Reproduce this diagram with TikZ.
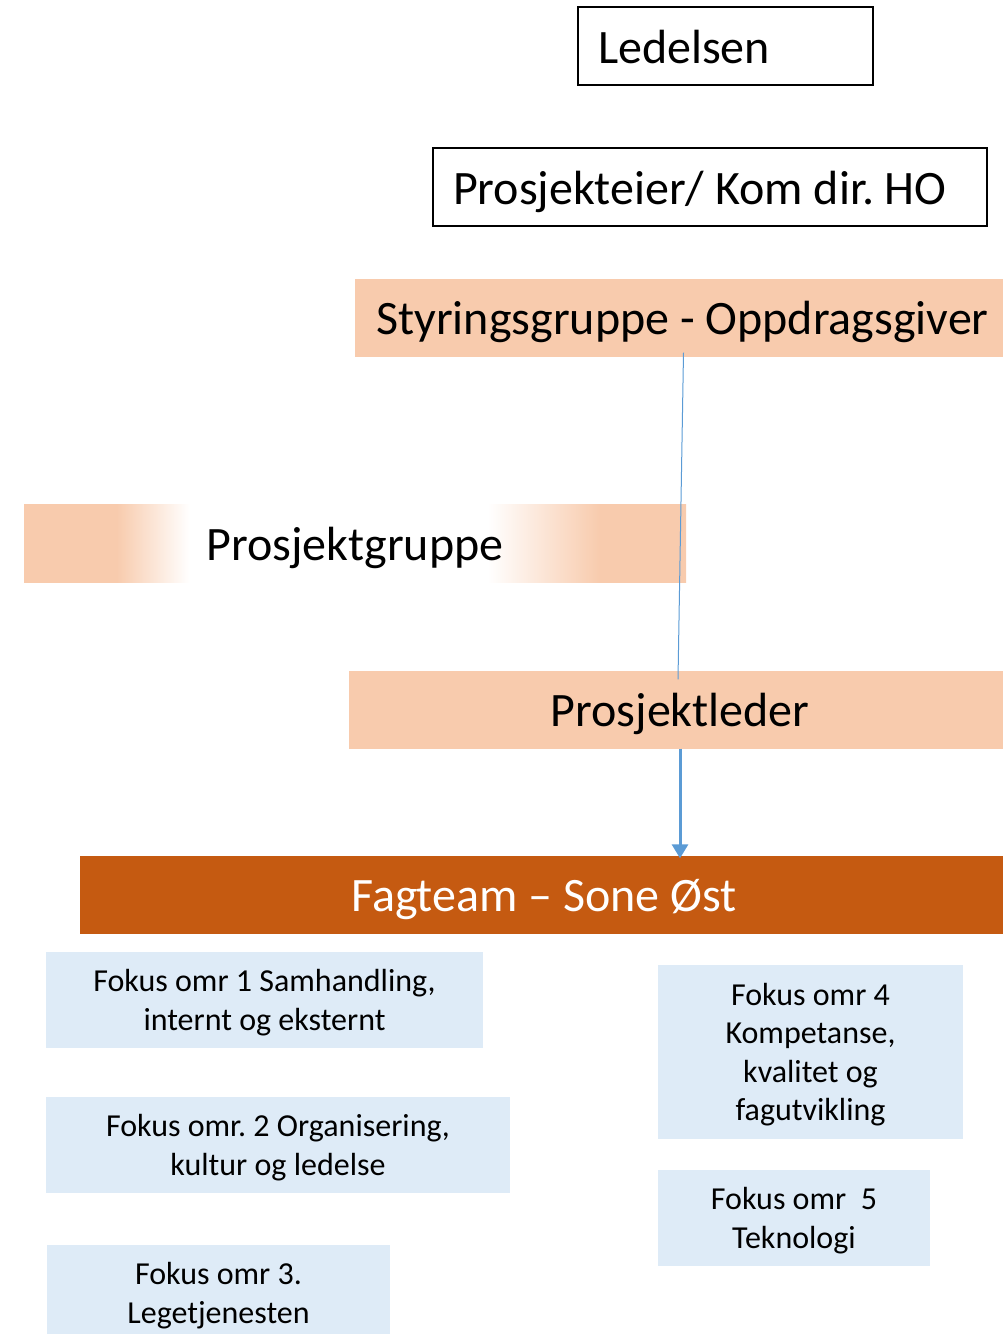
\documentclass[tikz,border=0pt]{standalone}
\usepackage{fontspec}
\setmainfont{Carlito}
\usepackage{xcolor}
\usepackage{tikz}
\usetikzlibrary{arrows.meta,positioning}
\definecolor{orgpeach}{HTML}{F8CBAD}
\definecolor{orgorange}{HTML}{C55A11}
\definecolor{orgblue}{HTML}{DEEBF7}
\definecolor{orgline}{HTML}{5B9BD5}
\pgfdeclarehorizontalshading{gruppeglow}{100bp}{color(0bp)=(orgpeach); color(32bp)=(orgpeach); color(37.5bp)=(white); color(60bp)=(white); color(68.5bp)=(orgpeach); color(100bp)=(orgpeach)}
\frenchspacing

\begin{document}
\begin{tikzpicture}[
  x=1pt, y=-1pt,
  level/.style={rectangle, inner sep=0pt, minimum height=78pt, text height=40pt, text depth=6pt, align=center, font=\fontsize{48}{57}\selectfont},
  frame/.style={level, draw=black, line width=1.3pt, fill=white},
  band/.style={level, fill=orgpeach},
  focus/.style={rectangle, inner sep=0pt, fill=orgblue, minimum height=96pt, text depth=-1.5pt, align=center, font=\fontsize{32}{38.5}\selectfont},
  thinline/.style={draw=orgline, line width=1pt},
  flowarrow/.style={draw=orgline, line width=3pt, -{Triangle[width=16pt,length=14pt]}}
]
  \clip (0,0) rectangle (1003,1334);

  \node[frame, minimum width=295pt, text width=255pt, align=flush left] (ledelsen) at (725.5,46) {Ledelsen};
  \node[frame, minimum width=554pt, text width=514pt, align=flush left] (eier) at (710,187) {Prosjekteier/ Kom dir. HO};
  \node[band, minimum width=655pt] (styring) at (682.5,317.5) {Styringsgruppe - Oppdragsgiver};
  \node[level, shading=gruppeglow, minimum width=662pt] (gruppe) at (355,543.5) {Prosjektgruppe};
  \node[band, minimum width=662pt] (leder) at (680,709.5) {Prosjektleder};
  \node[level, fill=orgorange, text=white, minimum width=928pt] (fagteam) at (544,894.5) {Fagteam – Sone Øst};

  % fokusomraader
  \node[focus, minimum width=437pt] (fokus1) at (264.5,1000) {Fokus omr 1 Samhandling,\\internt og eksternt};
  \node[focus, minimum width=464pt] (fokus2) at (278,1145) {Fokus omr. 2 Organisering,\\kultur og ledelse};
  \node[focus, minimum width=343pt] (fokus3) at (218.5,1293) {Fokus omr 3.\\Legetjenesten};
  \node[focus, minimum width=305pt, minimum height=174pt] (fokus4) at (810.5,1052) {Fokus omr 4\\Kompetanse,\\kvalitet og\\fagutvikling};
  \node[focus, minimum width=272pt] (fokus5) at (794,1218) {Fokus omr\ \ 5\\Teknologi};

  \draw[thinline] ([xshift=1pt,yshift=4pt]styring.south) -- ([xshift=-2pt,yshift=-9pt]leder.north);
  \draw[flowarrow] (leder.south) -- ([yshift=-3pt]leder.south |- fagteam.north);
\end{tikzpicture}
\end{document}
